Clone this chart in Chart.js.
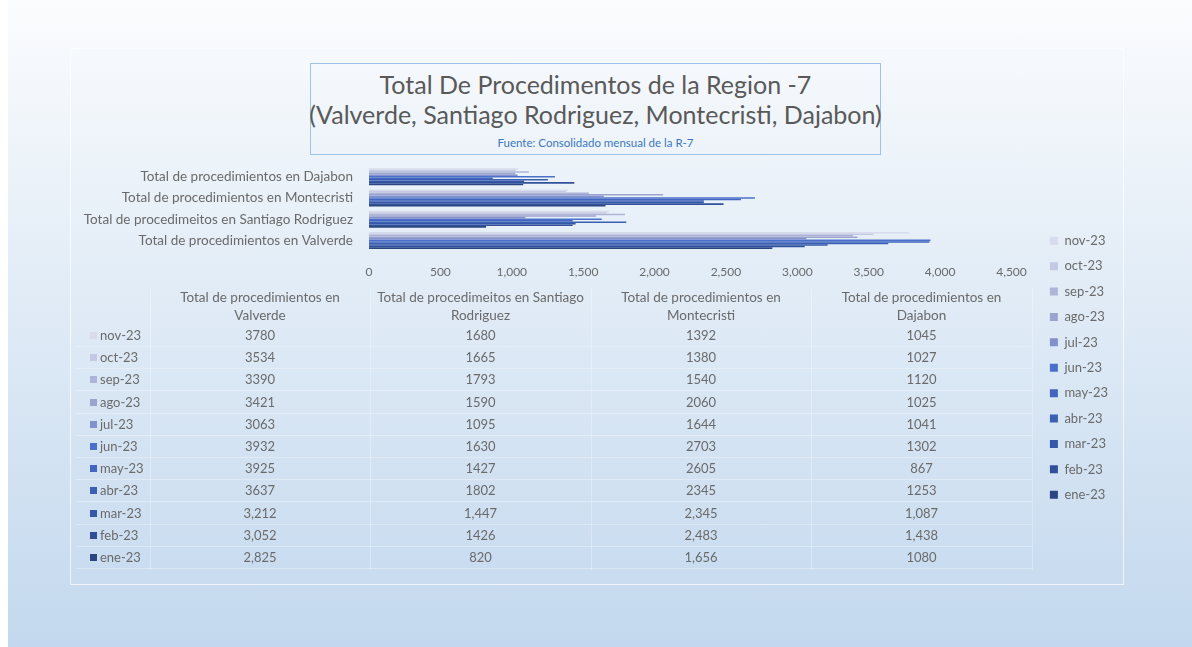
<!DOCTYPE html>
<html>
<head>
<meta charset="utf-8">
<script src="https://cdn.jsdelivr.net/npm/chart.js@4.4.0/dist/chart.umd.min.js"></script>
<style>
html, body { margin: 0; padding: 0; }
body { width: 1192px; height: 647px; position: relative; overflow: hidden; background: #fff; font-family: Lato, sans-serif; }
#fondo { position: absolute; left: 8px; top: 0; right: 0; bottom: 0; background: linear-gradient(#fbfcfe 0%, #eef4fa 22%, #c3d8ee 100%); }
#marco { position: absolute; left: 70px; top: 48px; width: 1052px; height: 535px; border: 1px solid rgba(255,255,255,.7); }
#titulo { position: absolute; left: 310px; top: 63px; width: 569px; height: 90px; border: 1px solid #9dc3e6; text-align: center; color: #595959; }
#titulo div { white-space: nowrap; margin-left: -40px; margin-right: -40px; }
#titulo .t1 { font-size: 25px; line-height: 30px; margin-top: 5px; }
#titulo .t2 { font-size: 25px; line-height: 30px; }
#titulo .t3 { font-size: 11.5px; line-height: 16px; color: #3a78c0; margin-top: 6px; }
#caja { position: absolute; left: 0; top: 150px; width: 1192px; height: 425px; }
#tabla div { position: absolute; font-size: 13px; color: #6a6a6a; text-align: center; white-space: nowrap; }
#tabla div.enc { font-size: 13.5px; }
#tabla .lbl { text-align: left; }
#tabla .key { display: inline-block; width: 7px; height: 7px; margin-right: 3px; vertical-align: 1px; }
#tabla div.linea { background: rgba(255,255,255,.3); }
</style>
</head>
<body>
<div id="fondo"></div>
<div id="marco"></div>
<div id="titulo">
  <div class="t1">Total De Procedimentos de la Region -7</div>
  <div class="t2">(Valverde, Santiago Rodriguez, Montecristi, Dajabon)</div>
  <div class="t3">Fuente: Consolidado mensual de la R-7</div>
</div>
<div id="caja"><canvas id="grafico"></canvas></div>
<div id="tabla"></div>
<script>
// meses en orden cronologico
const meses = ['ene-23', 'feb-23', 'mar-23', 'abr-23', 'may-23', 'jun-23', 'jul-23', 'ago-23', 'sep-23', 'oct-23', 'nov-23'];
const valverde = [2825, 3052, 3212, 3637, 3925, 3932, 3063, 3421, 3390, 3534, 3780];
const santiagoRodriguez = [820, 1426, 1447, 1802, 1427, 1630, 1095, 1590, 1793, 1665, 1680];
const montecristi = [1656, 2483, 2345, 2345, 2605, 2703, 1644, 2060, 1540, 1380, 1392];
const dajabon = [1080, 1438, 1087, 1253, 867, 1302, 1041, 1025, 1120, 1027, 1045];
const colores = ['#2b4682', '#30519a', '#3658a8', '#3b5fb3', '#4266bf', '#4a70ca', '#8390c9', '#9ba3cf', '#aeb4d8', '#c4c8e2', '#d8dbeb'];

// categorias del grafico, de arriba hacia abajo
const categorias = ['Total de procedimientos en Dajabon', 'Total de procedimientos en Montecristi', 'Total de procedimeitos en Santiago Rodriguez', 'Total de procedimientos en Valverde'];
// columnas de la tabla
const encabezados = [['Total de procedimientos en', 'Valverde'], ['Total de procedimeitos en Santiago', 'Rodriguez'], ['Total de procedimientos en', 'Montecristi'], ['Total de procedimientos en', 'Dajabon']];
const ticksX = [0, 500, 1000, 1500, 2000, 2500, 3000, 3500, 4000, 4500];
// celdas que en la tabla salen con separador de miles
const conComa = { 'ene-23': [1, 0, 1, 0], 'feb-23': [1, 0, 1, 1], 'mar-23': [1, 1, 1, 1] };

const datasets = [];
for (let i = meses.length - 1; i >= 0; i--) {
    datasets.push({
        label: meses[i],
        data: [dajabon[i], montecristi[i], santiagoRodriguez[i], valverde[i]],
        backgroundColor: colores[i],
        borderWidth: 0,
        categoryPercentage: 0.8,
        barPercentage: 1.0
    });
}

// la leyenda va un poco separada del area del grafico
const moverLeyenda = {
    id: 'moverLeyenda',
    afterLayout(chart) {
        chart.legend.left += 26;
        chart.legend.right += 26;
    }
};

new Chart(document.getElementById('grafico'), {
    type: 'bar',
    data: { labels: categorias, datasets: datasets },
    options: {
        indexAxis: 'y',
        responsive: true,
        maintainAspectRatio: false,
        animation: false,
        layout: { padding: { top: 10.5, right: 100 } },
        scales: {
            x: {
                min: 0, max: 4500,
                grid: { display: false },
                border: { display: false },
                afterFit(s) { s.height = 324; },
                afterBuildTicks(s) { s.ticks = ticksX.map(v => ({ value: v })); },
                ticks: {
                    color: '#6a6a6a', padding: 6,
                    font: { family: 'Lato', size: 12 },
                    callback: v => v.toLocaleString('en-US')
                }
            },
            y: {
                grid: { display: false },
                border: { display: false },
                afterFit(s) { s.width = 369; },
                ticks: { color: '#6a6a6a', padding: 8, font: { family: 'Lato', size: 13.5 } }
            }
        },
        plugins: {
            legend: {
                position: 'right',
                labels: { boxWidth: 8, boxHeight: 8, padding: 12.4, color: '#6a6a6a', font: { family: 'Lato', size: 13 } }
            },
            tooltip: { enabled: false }
        }
    },
    plugins: [moverLeyenda]
});

// tabla de datos
const tabla = document.getElementById('tabla');
const columnas = [valverde, santiagoRodriguez, montecristi, dajabon];
const colX = [150, 370, 591, 811, 1032];
function celda(x, y, w, html, cls) {
    const d = document.createElement('div');
    d.style.left = x + 'px';
    d.style.top = (y - 9) + 'px';
    d.style.width = w + 'px';
    d.style.lineHeight = '18px';
    if (cls) d.className = cls;
    d.innerHTML = html;
    tabla.appendChild(d);
}
function linea(x, y, w, h) {
    const d = document.createElement('div');
    d.className = 'linea';
    d.style.left = x + 'px'; d.style.top = y + 'px';
    d.style.width = w + 'px'; d.style.height = h + 'px';
    tabla.appendChild(d);
}
encabezados.forEach((e, c) => {
    celda(colX[c], 297, colX[c + 1] - colX[c], e[0], 'enc');
    celda(colX[c], 315, colX[c + 1] - colX[c], e[1], 'enc');
});
for (let c = 0; c < colX.length; c++) linea(colX[c], 288, 1, 282);
for (let r = 0; r < meses.length; r++) {
    const i = meses.length - 1 - r;
    const y = 335 + r * 22.2;
    celda(90, y, 60, '<span class="key" style="background:' + colores[i] + '"></span>' + meses[i], 'lbl');
    columnas.forEach((serie, c) => {
        const coma = conComa[meses[i]] && conComa[meses[i]][c];
        const txt = coma ? serie[i].toLocaleString('en-US') : String(serie[i]);
        celda(colX[c], y, colX[c + 1] - colX[c], txt);
    });
    linea(76, y + 11, 956, 1);
}
</script>
</body>
</html>
